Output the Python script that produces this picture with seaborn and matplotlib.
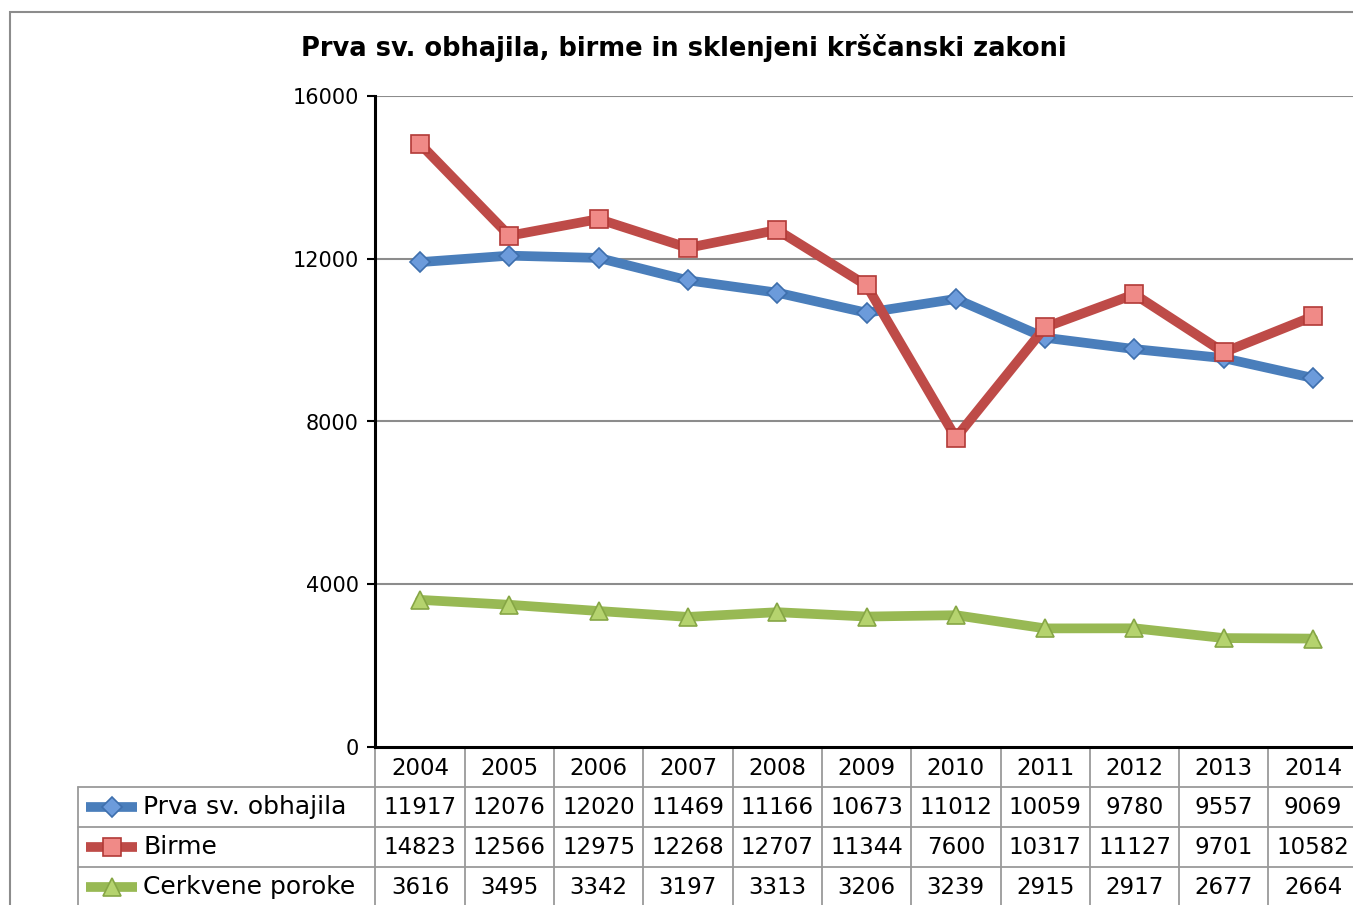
import matplotlib
matplotlib.use("Agg")
import matplotlib.pyplot as plt
import matplotlib.transforms as mtransforms
from matplotlib.lines import Line2D
from matplotlib.patches import Rectangle
import seaborn as sns
import pandas as pd

years = ["2004", "2005", "2006", "2007", "2008", "2009", "2010", "2011", "2012", "2013", "2014"]
obhajila = [11917, 12076, 12020, 11469, 11166, 10673, 11012, 10059, 9780, 9557, 9069]
birme = [14823, 12566, 12975, 12268, 12707, 11344, 7600, 10317, 11127, 9701, 10582]
poroke = [3616, 3495, 3342, 3197, 3313, 3206, 3239, 2915, 2917, 2677, 2664]
series_names = ["Prva sv. obhajila", "Birme", "Cerkvene poroke"]
title = "Prva sv. obhajila, birme in sklenjeni krščanski zakoni"
yticks = [0, 4000, 8000, 12000, 16000]

sns.set_theme(style="white")
plt.rcParams["font.family"] = ["DejaVu Sans"]

W, H = 1353, 905
fig = plt.figure(figsize=(W / 100, H / 100), dpi=100)

def fx(px):
    return px / W

def fy(py):
    return 1 - py / H

# outer chart frame
fig.patches.append(Rectangle((fx(10), fy(1000)), fx(1400), fy(12) - fy(1000),
                             transform=fig.transFigure, fill=False,
                             edgecolor="#8c8c8c", linewidth=1.5))

cell = 89.3
ax_left = 375.4
ax_right = ax_left + cell * len(years)
ax = fig.add_axes([fx(ax_left), fy(747), fx(ax_right) - fx(ax_left), fy(96) - fy(747)])
ax.set_facecolor("none")

styles = [
    dict(color="#4A7EBB", marker="D", mfc="#6C9BDB", mec="#3E6FAD", ms=10),
    dict(color="#BE4B48", marker="s", mfc="#F08A87", mec="#B23A37", ms=13),
    dict(color="#98B954", marker="^", mfc="#B5D36E", mec="#86A645", ms=13),
]
values = [obhajila, birme, poroke]
xs = list(range(len(years)))
for name, vals, st in zip(series_names, values, styles):
    df = pd.DataFrame({"x": xs, "y": vals})
    sns.lineplot(data=df, x="x", y="y", ax=ax, color=st["color"], linewidth=7,
                 marker=st["marker"], markersize=st["ms"], markerfacecolor=st["mfc"],
                 markeredgecolor=st["mec"], markeredgewidth=1.2, zorder=3, legend=False)

ax.set_xlim(-0.5, len(years) - 0.5)
ax.set_ylim(0, 16000)
ax.set_yticks(yticks)
ax.set_yticklabels([str(t) for t in yticks], fontsize=15)
ax.set_xticks([])
ax.set_xlabel("")
ax.set_ylabel("")
for t in yticks[1:]:
    ax.axhline(t, color="#8c8c8c", linewidth=1.5, zorder=1)
for s in ["top", "right"]:
    ax.spines[s].set_visible(False)
ax.spines["left"].set_color("black")
ax.spines["left"].set_linewidth(2.2)
ax.spines["bottom"].set_color("black")
ax.spines["bottom"].set_linewidth(2.2)
ax.tick_params(axis="y", which="major", direction="out", length=6, width=1.5,
               color="black", left=True, pad=6, labelcolor="black")

fig.text(fx(684), fy(48), title, ha="center", va="center",
         fontsize=18.5, fontweight="bold", color="black")

# data table under the axis
trans = mtransforms.blended_transform_factory(ax.transData, fig.transFigure)
grid_c = "#9a9a9a"
row_tops = [747, 787, 827, 867]
row_bot = 930
for i in range(len(years) + 1):
    xv = i - 0.5
    ax.add_line(Line2D([xv, xv], [fy(747), fy(row_bot)], transform=trans,
                       color=grid_c, linewidth=1.3, clip_on=False))
for r in row_tops[1:]:
    fig.add_artist(Line2D([fx(78), fx(ax_right + 20)], [fy(r), fy(r)],
                          color=grid_c, linewidth=1.3))
fig.add_artist(Line2D([fx(78), fx(78)], [fy(787), fy(row_bot)], color=grid_c, linewidth=1.3))

tfs = 16.5
for i, yr in enumerate(years):
    ax.text(i, fy(768), yr, transform=trans, ha="center", va="center", fontsize=tfs,
            color="black", clip_on=False)
for r, vals in enumerate(values):
    yc = fy(row_tops[r + 1] + 20)
    for i, v in enumerate(vals):
        ax.text(i, yc, str(v), transform=trans, ha="center", va="center", fontsize=tfs,
                color="black", clip_on=False)
    st = styles[r]
    fig.add_artist(Line2D([fx(86), fx(137)], [yc, yc], color=st["color"], linewidth=7,
                          solid_capstyle="butt"))
    fig.add_artist(Line2D([fx(112)], [yc], marker=st["marker"], markersize=st["ms"],
                          markerfacecolor=st["mfc"], markeredgecolor=st["mec"],
                          markeredgewidth=1.2, linestyle="none"))
    fig.text(fx(143), yc, series_names[r], ha="left", va="center", fontsize=18, color="black")

fig.savefig("out.png", dpi=100)
